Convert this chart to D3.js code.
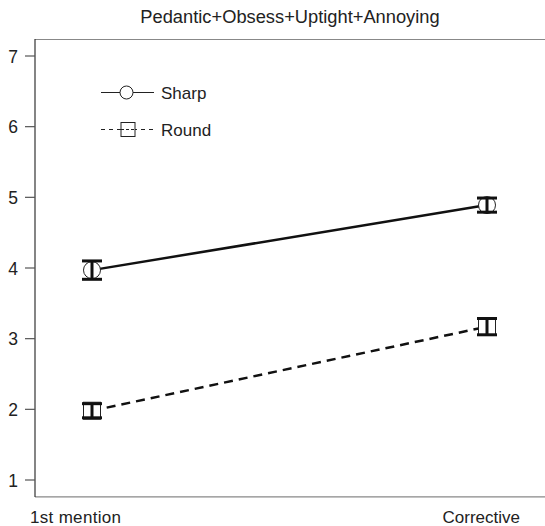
<!DOCTYPE html>
<html><head><meta charset="utf-8">
<script src="https://cdn.jsdelivr.net/npm/d3@7"></script>
<style>body{margin:0;background:#fff}svg{display:block}text{font-family:"Liberation Sans",Arial,sans-serif}</style>
</head><body><svg id="c" width="545" height="526"></svg>
<script>
const title = "Pedantic+Obsess+Uptight+Annoying";
const conditions = ["1st mention", "Corrective"];
const seriesNames = ["Sharp", "Round"];
const sharpMean = [3.97, 4.89];
const sharpErr = [0.13, 0.10];
const roundMean = [1.98, 3.17];
const roundErr = [0.10, 0.115];
const yTicks = [1, 2, 3, 4, 5, 6, 7];

const svg = d3.select("#c");
const x = d3.scalePoint().domain(conditions).range([92, 487]);
const y = d3.scaleLinear().domain([1, 7]).range([480, 56]);

// frame
svg.append("line").attr("x1", 35).attr("x2", 545).attr("y1", 39.5).attr("y2", 39.5).attr("stroke", "#888").attr("stroke-width", 1.2);
svg.append("line").attr("x1", 35).attr("x2", 545).attr("y1", y(0.76)).attr("y2", y(0.76)).attr("stroke", "#888").attr("stroke-width", 1.2);
svg.append("line").attr("x1", 35).attr("x2", 35).attr("y1", 39).attr("y2", y(0.76)).attr("stroke", "#333").attr("stroke-width", 1.2);

const ya = svg.append("g");
yTicks.forEach(t => {
  ya.append("line").attr("x1", 25).attr("x2", 35).attr("y1", y(t)).attr("y2", y(t)).attr("stroke", "#555").attr("stroke-width", 1.2);
  ya.append("text").attr("x", 18).attr("y", y(t) + 6.5).attr("text-anchor", "end").attr("font-size", 17.5).attr("fill", "#222").text(t);
});

svg.append("text").attr("x", 30).attr("y", 523).attr("font-size", 17).attr("fill", "#222").attr("textLength", 91).text(conditions[0]);
svg.append("text").attr("x", 520).attr("y", 523).attr("text-anchor", "end").attr("font-size", 17).attr("fill", "#222").text(conditions[1]);

svg.append("text").attr("x", 290).attr("y", 23).attr("text-anchor", "middle").attr("font-size", 18.3).attr("fill", "#222").text(title);

const line = d3.line().x((d, i) => x(conditions[i])).y(d => y(d));
svg.append("path").attr("d", line(sharpMean)).attr("fill", "none").attr("stroke", "#111").attr("stroke-width", 2.5);
svg.append("path").attr("d", line(roundMean)).attr("fill", "none").attr("stroke", "#111").attr("stroke-width", 2.5).attr("stroke-dasharray", "9,6");

function errbar(cx, m, e) {
  svg.append("line").attr("x1", cx).attr("x2", cx).attr("y1", y(m - e)).attr("y2", y(m + e)).attr("stroke", "#111").attr("stroke-width", 3);
  [m - e, m + e].forEach(v => svg.append("line").attr("x1", cx - 10).attr("x2", cx + 10).attr("y1", y(v)).attr("y2", y(v)).attr("stroke", "#111").attr("stroke-width", 3));
}
sharpMean.forEach((m, i) => {
  const cx = x(conditions[i]);
  svg.append("circle").attr("cx", cx).attr("cy", y(m)).attr("r", 8.5).attr("fill", "#fff").attr("stroke", "#222").attr("stroke-width", 1);
  errbar(cx, m, sharpErr[i]);
});
roundMean.forEach((m, i) => {
  const cx = x(conditions[i]);
  svg.append("rect").attr("x", cx - 8.5).attr("y", y(m) - 8.5).attr("width", 17).attr("height", 17).attr("fill", "#fff").attr("stroke", "#222").attr("stroke-width", 1);
  errbar(cx, m, roundErr[i]);
});

// legend
const lg = svg.append("g");
lg.append("line").attr("x1", 101).attr("x2", 154).attr("y1", 92.5).attr("y2", 92.5).attr("stroke", "#222").attr("stroke-width", 1);
lg.append("circle").attr("cx", 126.5).attr("cy", 92.5).attr("r", 6.5).attr("fill", "#fff").attr("stroke", "#222").attr("stroke-width", 1);
lg.append("text").attr("x", 161).attr("y", 98.5).attr("font-size", 17).attr("fill", "#222").text(seriesNames[0]);
lg.append("line").attr("x1", 101).attr("x2", 154).attr("y1", 129.5).attr("y2", 129.5).attr("stroke", "#222").attr("stroke-width", 1).attr("stroke-dasharray", "4,4");
lg.append("rect").attr("x", 121).attr("y", 122.5).attr("width", 14).attr("height", 14).attr("fill", "#fff").attr("stroke", "#222").attr("stroke-width", 1);
lg.append("line").attr("x1", 121).attr("x2", 135).attr("y1", 129.5).attr("y2", 129.5).attr("stroke", "#222").attr("stroke-width", 1).attr("stroke-dasharray", "3,2");
lg.append("text").attr("x", 161).attr("y", 135.5).attr("font-size", 17).attr("fill", "#222").text(seriesNames[1]);
</script></body></html>
